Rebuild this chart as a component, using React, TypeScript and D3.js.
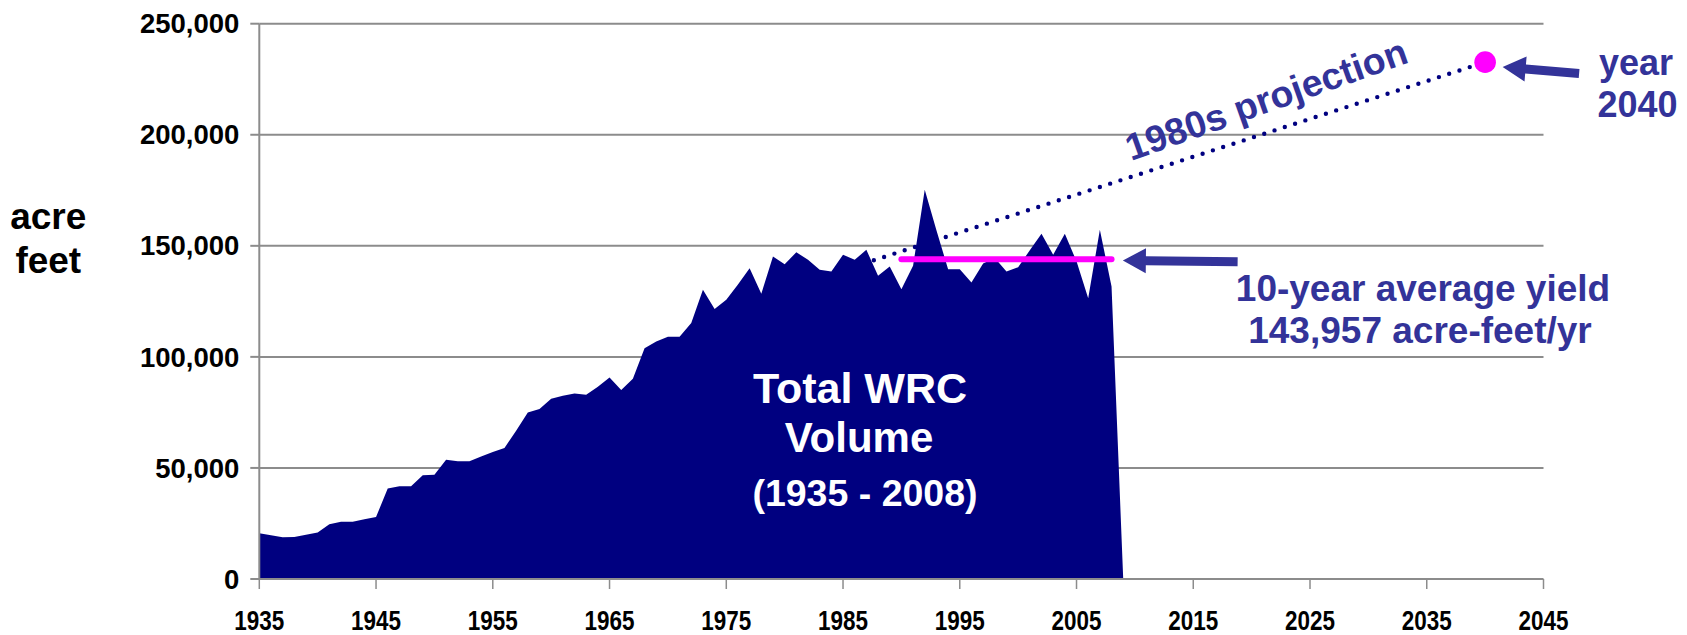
import * as d3 from "d3";

const WIDTH = 1687;
const HEIGHT = 635;
const MARGIN = { top: 23.7, right: 143.5, bottom: 56, left: 259.3 };

const FONT = "'Liberation Sans', Arial, sans-serif";
const NAVY = "#000080";
const INK = "#333399";
const PINK = "#ff00ff";
const GRID = "#8c8c8c";

// yearly WRC volume, acre feet (1935 - 2008), drops to zero after
const years = d3.range(1935, 2010);
const volumes = [
  20600, 19700, 18800, 18900, 19900, 20900, 24600, 25800, 25800, 26900,
  27900, 40700, 41800, 41800, 46700, 46900, 53700, 53000, 53000, 55200,
  57200, 59000, 66700, 75000, 76500, 81200, 82500, 83500, 82900, 86600,
  90700, 85100, 90100, 103900, 106900, 109100, 109100, 115200, 130200, 121500,
  125700, 132600, 139900, 128400, 145200, 141700, 147100, 143700, 139200, 138400,
  146000, 143700, 148200, 136500, 140700, 130500, 141000, 175200, 157000, 139500,
  139500, 133500, 142000, 144500, 138400, 140400, 148000, 155400, 146000, 155400,
  143000, 126400, 157200, 131700, 0,
];

const yTicks = [0, 50000, 100000, 150000, 200000, 250000];
const xTicks = d3.range(1935, 2046, 10);

// 1980s projection and the 10-year average
const projectionYears = [1985, 2040];
const projectionValues = [139000, 232700];
const averageYears = [1990, 2008];
const averageYield = 143957;

// arrows: [tailYear, tailValue, tipYear, tipValue]
const averageArrow = [2018.8, 142800, 2008.97, 143400];
const dotArrow = [2048.05, 227600, 2041.5, 230500];

function arrowPoints(tx: number, ty: number, hx: number, hy: number) {
  const headLen = 23, headHalf = 12.5, shaftHalf = 4.5;
  const dx = hx - tx, dy = hy - ty;
  const len = Math.hypot(dx, dy);
  const ux = dx / len, uy = dy / len;
  const nx = -uy, ny = ux;
  const bx = hx - ux * headLen, by = hy - uy * headLen;
  const pts = [
    [tx + nx * shaftHalf, ty + ny * shaftHalf],
    [bx + nx * shaftHalf, by + ny * shaftHalf],
    [bx + nx * headHalf, by + ny * headHalf],
    [hx, hy],
    [bx - nx * headHalf, by - ny * headHalf],
    [bx - nx * shaftHalf, by - ny * shaftHalf],
    [tx - nx * shaftHalf, ty - ny * shaftHalf],
  ];
  return pts.map((p) => p.join(",")).join(" ");
}

export default function App() {
  const x = d3
    .scaleLinear()
    .domain([1935, 2045])
    .range([MARGIN.left, WIDTH - MARGIN.right]);
  const y = d3
    .scaleLinear()
    .domain([0, 250000])
    .range([HEIGHT - MARGIN.bottom, MARGIN.top]);

  const data = years.map((yr, i) => ({ year: yr, value: volumes[i] }));

  const area = d3
    .area<{ year: number; value: number }>()
    .x((d) => x(d.year))
    .y0(y(0))
    .y1((d) => y(d.value));

  const projLine = d3.line<number>()
    .x((_, i) => x(projectionYears[i]))
    .y((d) => y(d));

  const fmt = d3.format(",");
  const x0 = x.range()[0];
  const x1 = x.range()[1];
  const yBase = y(0);

  const arrow = (a: number[]) => arrowPoints(x(a[0]), y(a[1]), x(a[2]), y(a[3]));

  return (
    <svg
      width={WIDTH}
      height={HEIGHT}
      style={{ position: "absolute", left: 0, top: 0, background: "#fff" }}
      fontFamily={FONT}
      fontWeight="bold"
    >
      {/* gridlines */}
      {yTicks.filter((t) => t > 0).map((t) => (
        <line key={t} x1={x0} x2={x1} y1={y(t)} y2={y(t)} stroke={GRID} strokeWidth={2} />
      ))}

      <path d={area(data) ?? ""} fill={NAVY} />

      <path
        d={projLine(projectionValues) ?? ""}
        fill="none"
        stroke={NAVY}
        strokeWidth={4.4}
        strokeDasharray="0 10.8"
        strokeLinecap="round"
      />

      <line
        x1={x(averageYears[0])}
        x2={x(averageYears[1])}
        y1={y(averageYield)}
        y2={y(averageYield)}
        stroke={PINK}
        strokeWidth={6}
        strokeLinecap="round"
      />
      <circle cx={x(2040)} cy={y(projectionValues[1])} r={10.8} fill={PINK} />

      {/* axes */}
      <line x1={x0} x2={x0} y1={y(250000)} y2={yBase} stroke={GRID} strokeWidth={2} />
      <line x1={x0} x2={x1} y1={yBase} y2={yBase} stroke={GRID} strokeWidth={2} />
      {yTicks.map((t) => (
        <g key={t}>
          <line x1={x0 - 9} x2={x0} y1={y(t)} y2={y(t)} stroke={GRID} strokeWidth={2} />
          <text x={x0 - 20} y={y(t)} dy="0.35em" textAnchor="end" fontSize={27.5} fill="#000">
            {fmt(t)}
          </text>
        </g>
      ))}
      {xTicks.map((t) => (
        <g key={t}>
          <line x1={x(t)} x2={x(t)} y1={yBase} y2={yBase + 10} stroke={GRID} strokeWidth={1.5} />
          <text
            x={x(t) - 25}
            y={630}
            fontSize={27}
            fill="#000"
            textLength={50}
            lengthAdjust="spacingAndGlyphs"
          >
            {t}
          </text>
        </g>
      ))}

      <text textAnchor="middle" fontSize={37} fill="#000">
        <tspan x={48.3} y={229.3}>acre</tspan>
        <tspan x={48.3} y={273.3}>feet</tspan>
      </text>

      <text textAnchor="middle" fill="#fff">
        <tspan x={860} y={403.3} fontSize={43}>Total WRC</tspan>
        <tspan x={859} y={451.7} fontSize={42}>Volume</tspan>
        <tspan x={865} y={506} fontSize={37.5}>(1935 - 2008)</tspan>
      </text>

      <polygon points={arrow(averageArrow)} fill={INK} />
      <polygon points={arrow(dotArrow)} fill={INK} />

      <text transform="translate(1131,161) rotate(-19.5)" fontSize={37.5} fill={INK}>
        1980s projection
      </text>

      <text textAnchor="middle" fontSize={36} fill={INK}>
        <tspan x={1636} y={75}>year</tspan>
        <tspan x={1637.5} y={117.3}>2040</tspan>
      </text>

      <text textAnchor="middle" fontSize={37} fill={INK}>
        <tspan x={1423} y={300.7}>10-year average yield</tspan>
        <tspan x={1420} y={343}>143,957 acre-feet/yr</tspan>
      </text>
    </svg>
  );
}
